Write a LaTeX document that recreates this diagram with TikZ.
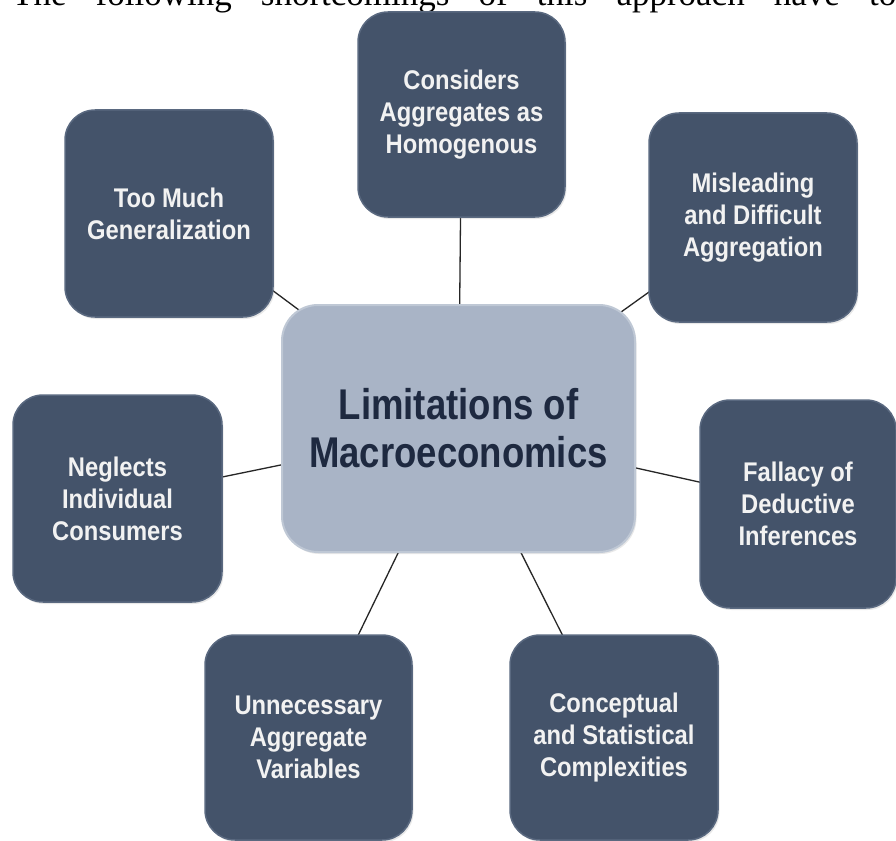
\documentclass[tikz,border=0pt]{standalone}
\usepackage{fontspec}
\setmainfont{Liberation Serif}
\newfontfamily\boxfont[FakeStretch=0.88]{Liberation Sans}
\newfontfamily\ctrfont[FakeStretch=0.85]{Liberation Sans}
\usetikzlibrary{backgrounds,shadows}
\definecolor{darkbox}{HTML}{44536A}
\definecolor{darkedge}{HTML}{5A6980}
\definecolor{lightbox}{HTML}{A9B4C6}
\definecolor{lightedge}{HTML}{BFC8D5}
\definecolor{ctrtext}{HTML}{1E2940}
\definecolor{boxtext}{HTML}{F2F2F2}
\begin{document}
\begin{tikzpicture}[x=1pt,y=-1pt,
  leaf/.style={rectangle, rounded corners=30pt, fill=darkbox, draw=darkedge,
    line width=1.5pt, text=boxtext, align=center, inner sep=0pt,
    font=\boxfont\bfseries\fontsize{27}{32}\selectfont,
    drop shadow={opacity=0.18, shadow xshift=1.5pt, shadow yshift=-2pt}},
  hub/.style={rectangle, rounded corners=36pt, fill=lightbox, draw=lightedge,
    line width=2pt, text=ctrtext, align=center, inner sep=0pt,
    font=\ctrfont\bfseries\fontsize{43}{48}\selectfont,
    drop shadow={opacity=0.18, shadow xshift=1.5pt, shadow yshift=-2pt}},
  link/.style={draw=black!85, line width=1.3pt},
  toptext/.style={anchor=base west, inner sep=0pt, font=\fontsize{35}{40}\selectfont}]
\useasboundingbox (0,0) rectangle (896,840);
\clip (0,0) rectangle (896,840);

\node[toptext] (intro) at (12,6) {\makebox[884pt][s]{The following shortcomings of this approach have to}};

\node[hub, minimum width=353pt, minimum height=247pt] (ctr) at (458.5,428.5) {Limitations of\\Macroeconomics};

\node[leaf, minimum width=207pt, minimum height=205pt] (cons) at (461.5,114.5) {Considers\\Aggregates as\\Homogenous};
\node[leaf, minimum width=208pt, minimum height=207pt] (gen) at (169,213.5) {Too Much\\Generalization};
\node[leaf, minimum width=208pt, minimum height=209pt] (mis) at (753,217.5) {Misleading\\and Difficult\\Aggregation};
\node[leaf, minimum width=209pt, minimum height=207pt] (neg) at (117.5,498.5) {Neglects\\Individual\\Consumers};
\node[leaf, minimum width=196pt, minimum height=208pt] (fal) at (798,504) {Fallacy of\\Deductive\\Inferences};
\node[leaf, minimum width=207pt, minimum height=205pt] (unn) at (308.5,737.5) {Unnecessary\\Aggregate\\Variables};
\node[leaf, minimum width=208pt, minimum height=205pt] (con) at (614,737.5) {Conceptual\\and Statistical\\Complexities};

\begin{scope}[on background layer]
\fill[white] (0,0) rectangle (896,840);
\draw[link] (cons.center) -- (ctr.center);
\draw[link] (gen.center) -- (ctr.center);
\draw[link] (mis.center) -- (ctr.center);
\draw[link] (neg.center) -- (ctr.center);
\draw[link] (fal.center) -- (ctr.center);
\draw[link] (unn.center) -- (ctr.center);
\draw[link] (con.center) -- (ctr.center);
\end{scope}
\end{tikzpicture}
\end{document}
